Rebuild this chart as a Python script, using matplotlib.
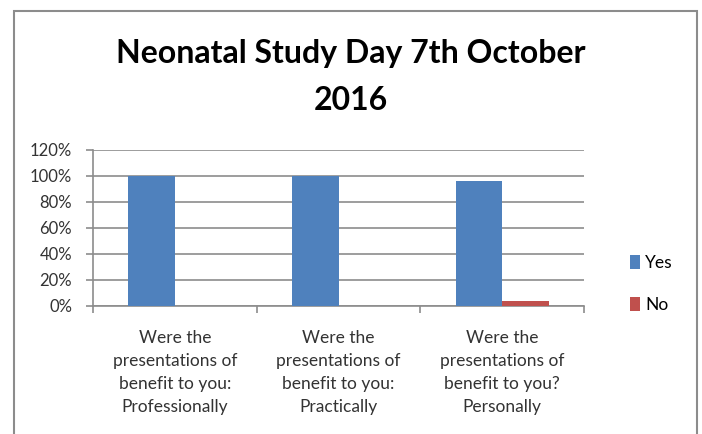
import matplotlib.pyplot as plt
import numpy as np
from matplotlib.patches import Rectangle

plt.rcParams['font.family'] = ['Lato', 'DejaVu Sans']

categories = ['Were the\npresentations of\nbenefit to you:\nProfessionally',
              'Were the\npresentations of\nbenefit to you:\nPractically',
              'Were the\npresentations of\nbenefit to you?\nPersonally']
yes = [100, 100, 96]
no = [0, 0, 4]
yticks = [0, 20, 40, 60, 80, 100, 120]

BLUE = '#4F81BD'
RED = '#C0504D'
GRID = '#8C8C8C'

fig = plt.figure(figsize=(7.02, 4.34), dpi=100)
ax = fig.add_axes([93 / 702, 1 - 306 / 434, 491 / 702, 156 / 434])

x = np.arange(len(categories))
w = 0.285
ax.bar(x - w / 2, yes, width=w, color=BLUE, label='Yes', zorder=3)
ax.bar(x + w / 2, no, width=w, color=RED, label='No', zorder=3)

ax.set_xlim(-0.5, len(categories) - 0.5)
ax.set_ylim(0, 120)
ax.set_yticks(yticks)
ax.set_yticklabels(['%d%%' % t for t in yticks], fontsize=12, color='#333333')
ax.yaxis.grid(True, color=GRID, linewidth=1.2, zorder=0)

ax.set_xticks(np.arange(len(categories) + 1) - 0.5)
ax.set_xticklabels([])
ax.set_xticks(x, minor=True)
ax.set_xticklabels(categories, minor=True, fontsize=12.5, color='#333333',
                   linespacing=1.55)
ax.tick_params(axis='x', which='minor', length=0, pad=17)
ax.tick_params(axis='x', which='major', length=5, color=GRID, width=1.2)
ax.tick_params(axis='y', length=5, color=GRID, width=1.2, pad=10)

for s in ['top', 'right']:
    ax.spines[s].set_visible(False)
for s in ['left', 'bottom']:
    ax.spines[s].set_color(GRID)
    ax.spines[s].set_linewidth(1.2)

ax.legend(loc='center left', bbox_to_anchor=(614 / 702, 1 - 284 / 434),
          bbox_transform=fig.transFigure, frameon=False, fontsize=12.5,
          handlelength=0.6, handleheight=0.8, handletextpad=0.3,
          labelspacing=1.5)

fig.text(0.5, 1 - 54 / 434, 'Neonatal Study Day 7th October', ha='center',
         va='center', fontsize=23, fontweight='bold')
fig.text(0.5, 1 - 100 / 434, '2016', ha='center', va='center', fontsize=23,
         fontweight='bold')

fig.patches.append(Rectangle((14 / 702, -0.05), 683 / 702, 1 - 11 / 434 + 0.05,
                             transform=fig.transFigure, fill=False,
                             edgecolor='#8C8C8C', linewidth=1.5))

fig.savefig('out.png', dpi=100)
